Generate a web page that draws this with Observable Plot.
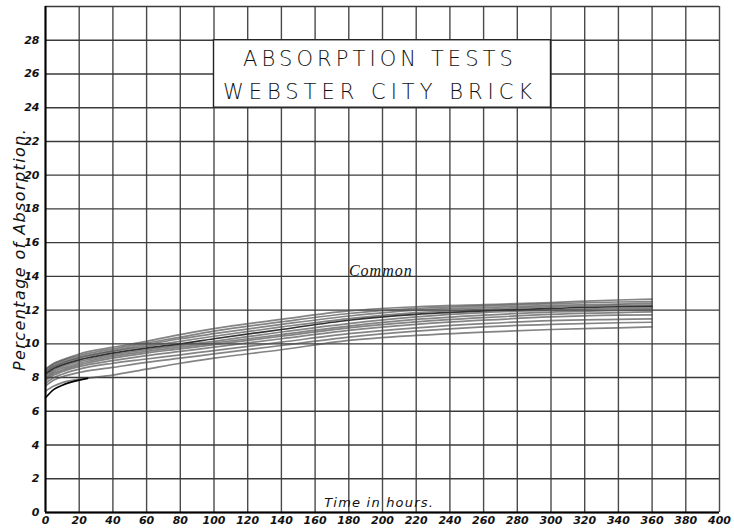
<!DOCTYPE html>
<html>
<head>
<meta charset="utf-8">
<script src="https://cdn.jsdelivr.net/npm/d3@7"></script>
<script src="https://cdn.jsdelivr.net/npm/@observablehq/plot@0.6"></script>
<style>
  html, body { margin: 0; padding: 0; background: #fff; }
  svg { display: block; }
</style>
</head>
<body>
<div id="chart"></div>
<script>
// Hours at which curves were read
const hours = [0, 5, 10, 20, 40, 60, 80, 100, 140, 180, 220, 260, 300, 340, 360];

// Percentage of absorption, one array per brick sample
const s1  = [8.5, 8.85, 9.05, 9.4, 9.8, 10.15, 10.55, 10.9, 11.45, 11.95, 12.2, 12.32, 12.45, 12.6, 12.65];
const s2  = [8.45, 8.8, 9.0, 9.3, 9.7, 10.05, 10.4, 10.75, 11.3, 11.8, 12.1, 12.25, 12.38, 12.48, 12.5];
const s3  = [8.35, 8.7, 8.9, 9.2, 9.6, 9.95, 10.3, 10.6, 11.15, 11.65, 12.0, 12.15, 12.28, 12.36, 12.4];
const s4  = [8.3, 8.65, 8.85, 9.15, 9.55, 9.85, 10.15, 10.45, 11.0, 11.5, 11.85, 12.05, 12.2, 12.28, 12.3];
const s5  = [8.2, 8.55, 8.75, 9.05, 9.45, 9.75, 10.0, 10.3, 10.85, 11.4, 11.75, 11.95, 12.1, 12.2, 12.22];
const s6  = [8.1, 8.45, 8.65, 8.95, 9.35, 9.65, 9.9, 10.15, 10.7, 11.2, 11.6, 11.85, 12.0, 12.1, 12.12];
const s7  = [8.0, 8.35, 8.55, 8.85, 9.25, 9.55, 9.8, 10.05, 10.55, 11.05, 11.45, 11.7, 11.88, 11.98, 12.02];
const s8  = [7.9, 8.25, 8.45, 8.75, 9.15, 9.45, 9.7, 9.95, 10.45, 10.95, 11.3, 11.55, 11.75, 11.85, 11.9];
const s9  = [7.8, 8.15, 8.35, 8.65, 9.0, 9.3, 9.55, 9.8, 10.3, 10.8, 11.15, 11.4, 11.6, 11.7, 11.72];
const s10 = [7.65, 8.0, 8.2, 8.5, 8.85, 9.1, 9.35, 9.6, 10.1, 10.6, 10.95, 11.2, 11.38, 11.45, 11.48];
const s11 = [7.5, 7.85, 8.05, 8.3, 8.6, 8.9, 9.15, 9.4, 9.9, 10.4, 10.75, 11.0, 11.15, 11.25, 11.28];
const s12 = [7.2, 7.5, 7.7, 7.9, 8.15, 8.5, 8.85, 9.15, 9.65, 10.2, 10.5, 10.7, 10.85, 10.95, 11.0];
const grayNames = ["s1","s2","s3","s4","s6","s7","s8","s9","s10","s11","s12"];
const grayValues = [s1, s2, s3, s4, s6, s7, s8, s9, s10, s11, s12];
const darkValues = s5;

// Lowest early curve, drawn in black
const lowHours = [0, 5, 10, 20, 25];
const lowValues = [6.8, 7.3, 7.55, 7.85, 7.95];

// Axis ticks
const xTicks = d3.range(0, 401, 20);
const yTicks = d3.range(0, 29, 2);
const yGrid = d3.range(0, 31, 2);

const titleLines = ["ABSORPTION TESTS", "WEBSTER CITY BRICK"];
const titleY = [26.85, 24.9];
const yLabel = "Percentage of Absorption.";
const curveLabel = "Common";
const xLabel = "Time in hours.";

const grayData = grayValues.flatMap((vals, i) =>
  hours.map((h, j) => ({ series: grayNames[i], h, v: vals[j] })));
const darkData = hours.map((h, j) => ({ h, v: darkValues[j] }));
const lowData = lowHours.map((h, j) => ({ h, v: lowValues[j] }));

const chart = Plot.plot({
  width: 734,
  height: 531,
  marginLeft: 45,
  marginRight: 15,
  marginTop: 6,
  marginBottom: 19,
  style: { fontFamily: "DejaVu Sans", background: "#fff" },
  x: { domain: [0, 400] },
  y: { domain: [0, 30] },
  marks: [
    // grid
    Plot.ruleX(xTicks, { stroke: "#4a4a4a", strokeWidth: 1.4 }),
    Plot.ruleY(yGrid, { stroke: "#3a3a3a", strokeWidth: 1.4 }),
    // title box
    Plot.rect([{ x1: 100, x2: 300, y1: 24, y2: 28 }], {
      x1: "x1", x2: "x2", y1: "y1", y2: "y2", fill: "#fff", stroke: "#222", strokeWidth: 1.4
    }),
    Plot.text(titleLines, {
      x: 200, y: (d, i) => titleY[i], text: d => d, dx: -2.5,
      fontSize: 21, fontWeight: 300, fill: "#111",
      fontFamily: "DejaVu Sans"
    }),
    // curves
    Plot.line(grayData, {
      x: "h", y: "v", z: "series", curve: "monotone-x",
      stroke: "#505050", strokeWidth: 1.7, strokeOpacity: 0.7
    }),
    Plot.line(darkData, { x: "h", y: "v", curve: "monotone-x", stroke: "#333", strokeWidth: 1.7 }),
    Plot.line(lowData, { x: "h", y: "v", curve: "monotone-x", stroke: "#000", strokeWidth: 1.6 }),
    // frame left and bottom
    Plot.ruleX([0], { stroke: "#000", strokeWidth: 2 }),
    Plot.ruleY([0], { stroke: "#000", strokeWidth: 2 }),
    // axes
    Plot.axisX(xTicks, {
      tickSize: 0, tickPadding: 4, label: null,
      fontStyle: "italic", fontSize: 11, fontWeight: "bold", fill: "#111"
    }),
    Plot.axisY(yTicks, {
      tickSize: 0, tickPadding: 6, label: null,
      fontStyle: "italic", fontSize: 11, fontWeight: "bold", fill: "#111"
    }),
    // annotations
    Plot.text([yLabel], {
      frameAnchor: "left", y: 15.6, dx: -26, rotate: -90, textAnchor: "middle",
      fontSize: 16, fontStyle: "italic", fill: "#111"
    }),
    Plot.text([curveLabel], {
      x: 199, y: 14.35, fontSize: 16, fontStyle: "italic",
      fontFamily: "Liberation Serif", fill: "#111"
    }),
    Plot.text([xLabel], {
      x: 198, y: 0.6, fontSize: 13, fontStyle: "italic", fill: "#111"
    })
  ]
});

// letter spacing for the hand-lettered texts
const spacing = new Map([
  [titleLines[0], 4.1], [titleLines[1], 5.0], [yLabel, 1.4], [xLabel, 1.2], [curveLabel, 1]
]);
d3.select(chart).selectAll("text").each(function () {
  const s = spacing.get(this.textContent);
  if (s != null) this.setAttribute("letter-spacing", s);
});

document.getElementById("chart").appendChild(chart);
</script>
</body>
</html>
